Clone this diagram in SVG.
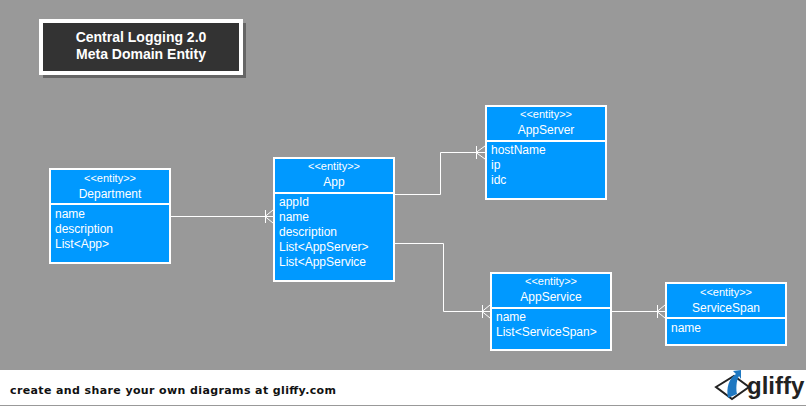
<svg xmlns="http://www.w3.org/2000/svg" width="806" height="406" viewBox="0 0 806 406">
<style>
text{font-family:"Liberation Sans",Arial,sans-serif;fill:#fff;font-size:12px}
.box{fill:#0099ff;stroke:#fff;stroke-width:2}
.div{stroke:#fff;stroke-width:2;fill:none}
.c{fill:none;stroke:#fff;stroke-width:1}
.st{font-size:11px;text-anchor:middle}
.nm{text-anchor:middle}
</style>
<rect width="806" height="406" fill="#999"/>
<g id="title">
<rect x="43" y="23" width="203" height="55" fill="#666"/>
<rect x="41" y="21" width="200" height="52" fill="#333" stroke="#fff" stroke-width="4"/>
<text x="141" y="42" text-anchor="middle" font-weight="bold" style="font-size:14px">Central Logging 2.0</text>
<text x="141" y="59" text-anchor="middle" font-weight="bold" style="font-size:14px">Meta Domain Entity</text>
</g>
<g id="connectors">
<path class="c" d="M171 216.500H273M265.500 210V223M265 216.500L273 210M265 216.500L273 223"/>
<path class="c" d="M395 194.500H440.500V152.500H485M476.500 146V159M476 152.500L485 146M476 152.500L485 159"/>
<path class="c" d="M395 243.500H443.500V311.500H490M482.500 305V318M482 311.500L490 305M482 311.500L490 318"/>
<path class="c" d="M612 311.500H665M657.500 305V318M657 311.500L665 305M657 311.500L665 318"/>
</g>
<g id="department">
<rect class="box" x="50" y="169" width="120" height="94"/>
<path class="div" d="M50 204H170"/>
<text class="st" x="110" y="182">&lt;&lt;entity&gt;&gt;</text>
<text class="nm" x="110" y="198">Department</text>
<text x="55" y="218">name</text>
<text x="55" y="233">description</text>
<text x="55" y="248">List&lt;App&gt;</text>
</g>
<g id="app">
<rect class="box" x="274" y="158" width="120" height="123"/>
<path class="div" d="M274 193H394"/>
<text class="st" x="334" y="170">&lt;&lt;entity&gt;&gt;</text>
<text class="nm" x="334" y="186">App</text>
<text x="279" y="206">appId</text>
<text x="279" y="221">name</text>
<text x="279" y="236">description</text>
<text x="279" y="251">List&lt;AppServer&gt;</text>
<text x="279" y="266">List&lt;AppService</text>
</g>
<g id="appserver">
<rect class="box" x="486" y="106" width="120" height="93"/>
<path class="div" d="M486 141H606"/>
<text class="st" x="546" y="118">&lt;&lt;entity&gt;&gt;</text>
<text class="nm" x="546" y="134">AppServer</text>
<text x="491" y="154">hostName</text>
<text x="491" y="169">ip</text>
<text x="491" y="184">idc</text>
</g>
<g id="appservice">
<rect class="box" x="491" y="273" width="120" height="77"/>
<path class="div" d="M491 308H611"/>
<text class="st" x="551" y="285">&lt;&lt;entity&gt;&gt;</text>
<text class="nm" x="551" y="301">AppService</text>
<text x="496" y="321">name</text>
<text x="496" y="336">List&lt;ServiceSpan&gt;</text>
</g>
<g id="servicespan">
<rect class="box" x="666" y="283" width="120" height="62"/>
<path class="div" d="M666 318H786"/>
<text class="st" x="726" y="296">&lt;&lt;entity&gt;&gt;</text>
<text class="nm" x="726" y="312">ServiceSpan</text>
<text x="671" y="332">name</text>
</g>
<g id="footer">
<rect x="0" y="370" width="806" height="35" fill="#fff"/>
<text x="10" y="394" style="font-family:'DejaVu Sans',Verdana,sans-serif;font-size:11px;font-weight:bold;fill:#111" textLength="326" lengthAdjust="spacing">create and share your own diagrams at gliffy.com</text>
<path d="M716 387L734 376L749 387L732 399Z" fill="#fff" stroke="#222" stroke-width="2"/>
<path d="M728 398C726 388 729 378 736 374L733 371L741 370L741 379L739 376C736 381 736 390 737 394Z" fill="#1f78c1"/>
<text x="747" y="394" style="font-size:24px;font-weight:bold;fill:#222">gliffy</text>
</g>
</svg>
